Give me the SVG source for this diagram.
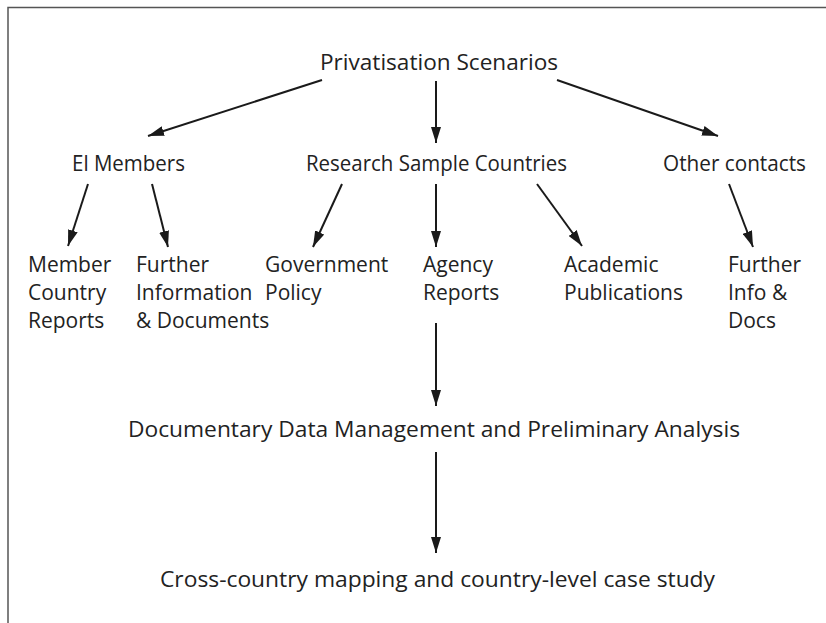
<svg xmlns="http://www.w3.org/2000/svg" width="826" height="623" viewBox="0 0 826 623">
<style>
text{font-family:"Open Sans","Noto Sans","Liberation Sans",sans-serif;font-size:21px;fill:#222}
.b{font-size:22px}
.c{text-anchor:middle}
.e{stroke:#1a1a1a;stroke-width:2;fill:none;marker-end:url(#ah)}
</style>
<defs>
<marker id="ah" markerUnits="userSpaceOnUse" viewBox="0 0 16 10" refX="16" refY="5" markerWidth="16" markerHeight="10" orient="auto">
<path d="M0,0 L16,5 L0,10 Z" fill="#1a1a1a"/>
</marker>
</defs>
<rect width="826" height="623" fill="#fff"/>
<path d="M8,623 V7.5 H826" stroke="#555" stroke-width="1.5" fill="none"/>
<g id="connectors">
<line class="e" x1="322" y1="80" x2="148" y2="136"/>
<line class="e" x1="436" y1="81" x2="436" y2="143"/>
<line class="e" x1="557" y1="80" x2="718" y2="136"/>
<line class="e" x1="88" y1="184" x2="68" y2="246"/>
<line class="e" x1="152" y1="184" x2="168" y2="247"/>
<line class="e" x1="342" y1="184" x2="313" y2="247"/>
<line class="e" x1="436" y1="184" x2="436" y2="247"/>
<line class="e" x1="537" y1="184" x2="582" y2="246"/>
<line class="e" x1="729" y1="184" x2="753" y2="247"/>
<line class="e" x1="436" y1="323" x2="436" y2="406"/>
<line class="e" x1="436" y1="452" x2="436" y2="553"/>
</g>
<g id="n-privatisation"><text class="b" x="320" y="70" textLength="238" lengthAdjust="spacingAndGlyphs">Privatisation Scenarios</text></g>
<g id="n-el"><text x="72" y="171" textLength="113" lengthAdjust="spacingAndGlyphs">El Members</text></g>
<g id="n-research"><text x="306" y="171" textLength="261" lengthAdjust="spacingAndGlyphs">Research Sample Countries</text></g>
<g id="n-other"><text x="663" y="171" textLength="143" lengthAdjust="spacingAndGlyphs">Other contacts</text></g>
<g id="n-member"><text x="28" y="272">Member<tspan x="28" dy="28">Country</tspan><tspan x="28" dy="28">Reports</tspan></text></g>
<g id="n-further"><text x="136" y="272">Further<tspan x="136" dy="28">Information</tspan><tspan x="136" dy="28">&amp; Documents</tspan></text></g>
<g id="n-gov"><text x="265" y="272">Government<tspan x="265" dy="28">Policy</tspan></text></g>
<g id="n-agency"><text x="423" y="272">Agency<tspan x="423" dy="28">Reports</tspan></text></g>
<g id="n-academic"><text x="564" y="272">Academic<tspan x="564" dy="28">Publications</tspan></text></g>
<g id="n-furtherinfo"><text x="728" y="272">Further<tspan x="728" dy="28">Info &amp;</tspan><tspan x="728" dy="28">Docs</tspan></text></g>
<g id="n-documentary"><text class="b" x="128" y="437" textLength="612" lengthAdjust="spacingAndGlyphs">Documentary Data Management and Preliminary Analysis</text></g>
<g id="n-cross"><text class="b" x="160" y="587" textLength="555" lengthAdjust="spacingAndGlyphs">Cross-country mapping and country-level case study</text></g>
</svg>
